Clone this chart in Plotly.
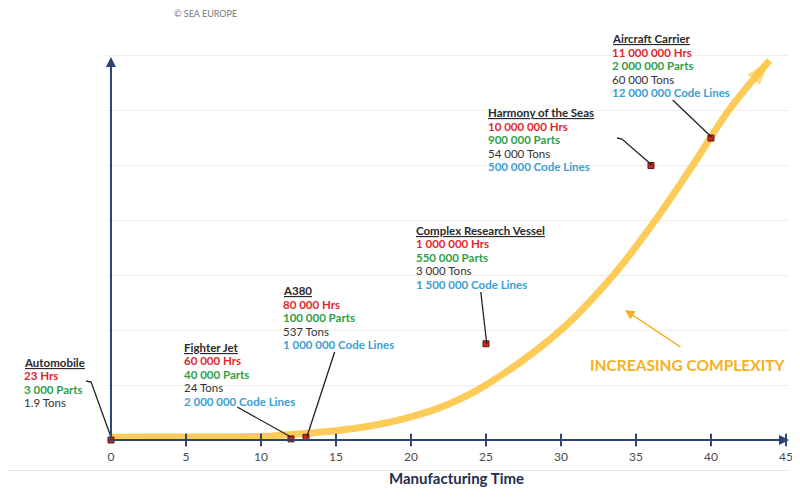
import plotly.graph_objects as go

# --- data ---
vehicles = ['Automobile', 'Fighter Jet', 'A380', 'Complex Research Vessel',
            'Harmony of the Seas', 'Aircraft Carrier']
build_hours = [23, 60000, 80000, 1000000, 10000000, 11000000]
part_counts = [3000, 40000, 100000, 550000, 900000, 2000000]
weight_tons = [1.9, 24, 537, 3000, 54000, 60000]
code_lines = [None, 2000000, 1000000, 1500000, 500000, 12000000]

# where each vehicle sits on the chart
point_x = [0, 12, 13, 25, 36, 40]
point_y = [0.0, 0.02, 0.05, 1.75, 4.99, 5.49]

# the "increasing complexity" curve
curve_x = [0, 5, 10, 12, 15, 17, 20, 22.5, 25, 30, 33.5, 36.3, 38.8, 41.2, 43.9]
curve_y = [0.05, 0.055, 0.065, 0.1, 0.17, 0.24, 0.42, 0.65, 1.0, 2.0, 3.0, 4.0, 5.0, 6.0, 6.9]

x_ticks = [0, 5, 10, 15, 20, 25, 30, 35, 40, 45]

# --- page geometry ---
# the page body has an 8px margin, so the figure starts at (8, 8) on screen;
# positions below are written in screen pixels and shifted by OFF.
OFF = 8
W, H = 792, 491
ML, MR, MT, MB = 97, 7, 41, 55
PX_X = (W - ML - MR) / 45.6      # pixels per x unit
PX_Y = 55.0                      # pixels per y unit
X0_PX, Y0_PX = 111, 440          # screen position of the origin
X_RANGE = [-(X0_PX - OFF - ML) / PX_X, (W - MR - (X0_PX - OFF)) / PX_X]
Y_RANGE = [-(H - MB - (Y0_PX - OFF)) / PX_Y, ((Y0_PX - OFF) - MT) / PX_Y]

NAVY = '#2B4570'
RED = '#E3262B'
GREEN = '#2E9F48'
BLUE = '#3AA0D5'
DARK = '#333333'
YELLOW = 'rgba(253,196,64,0.88)'
ORANGE = '#F5B021'
LINE_GAP = 13.6


def fx(p):
    return (p - OFF - ML) / (W - ML - MR)


def fy(p):
    return (H - MB - (p - OFF)) / (H - MT - MB)


def fmt(v):
    if isinstance(v, float) and not v.is_integer():
        return str(v)
    return f"{int(v):,}".replace(',', ' ')


def block_rows(i):
    rows = [(f"<b><u>{vehicles[i]}</u></b>", '#2A2A2A'),
            (f"<b>{fmt(build_hours[i])} Hrs</b>", RED),
            (f"<b>{fmt(part_counts[i])} Parts</b>", GREEN),
            (f"{fmt(weight_tons[i])} Tons", DARK)]
    if code_lines[i] is not None:
        rows.append((f"<b>{fmt(code_lines[i])} Code Lines</b>", BLUE))
    return rows


def note(x, y, text, size, color):
    fig.add_annotation(x=fx(x), y=fy(y), xref='paper', yref='paper', text=text,
                       showarrow=False, xanchor='center', yanchor='middle',
                       font=dict(family='Lato', size=size, color=color))


fig = go.Figure()

# curve with arrow head at its end
n = len(curve_x)
fig.add_trace(go.Scatter(
    x=curve_x, y=curve_y, mode='lines+markers',
    line=dict(color=YELLOW, width=7, shape='spline', smoothing=1.0),
    marker=dict(symbol=['circle'] * (n - 1) + ['arrow'],
                size=[0] * (n - 1) + [26], angleref='previous',
                color=YELLOW, line=dict(width=0)),
    hoverinfo='skip', showlegend=False, cliponaxis=False))

# cross ticks on the time axis
fig.add_trace(go.Scatter(
    x=x_ticks[1:], y=[0] * (len(x_ticks) - 1), mode='markers',
    marker=dict(symbol='line-ns', size=9, line=dict(color=NAVY, width=2)),
    hoverinfo='skip', showlegend=False, cliponaxis=False))

# vehicle points
fig.add_trace(go.Scatter(
    x=point_x, y=point_y, mode='markers', text=vehicles,
    marker=dict(symbol='square', size=6, color='#C8281E',
                line=dict(color='#5A1A10', width=1)),
    hovertemplate='%{text}<extra></extra>', showlegend=False, cliponaxis=False))

# label blocks, one annotation per line (screen px of first line centre)
label_px = [(22, 362), (182, 347), (282, 290.5), (415.5, 230), (488, 112.5), (613, 38.5)]
for i, (lx, ly) in enumerate(label_px):
    for k, (txt, col) in enumerate(block_rows(i)):
        fig.add_annotation(x=fx(lx), y=fy(ly + k * LINE_GAP), xref='paper', yref='paper',
                           text=txt, showarrow=False, align='left',
                           xanchor='left', yanchor='middle',
                           font=dict(family='Lato', size=11.5, color=col))

# leader lines from the labels to the points
leaders = [
    [(86, 381), (91, 382), (111, 437)],
    [(238, 407), (292, 437)],
    [(336, 352), (308, 437)],
    [(483, 292), (489, 344)],
    [(620, 138), (625, 139), (655, 165)],
    [(676, 100), (715, 137)],
]
for pts in leaders:
    path = 'M ' + ' L '.join(f"{fx(a):.5f},{fy(b):.5f}" for a, b in pts)
    fig.add_shape(type='path', path=path, xref='paper', yref='paper',
                  line=dict(color='#222222', width=1.3))

# separator under the axis title
fig.add_shape(type='line', xref='paper', yref='paper',
              x0=fx(OFF), x1=fx(792), y0=fy(470.5), y1=fy(470.5),
              line=dict(color='#E6E6E6', width=1))

# axis lines with arrow heads
fig.add_annotation(x=fx(793), y=fy(440), xref='paper', yref='paper', text='',
                   showarrow=True, ax=111 - 793, ay=0, arrowhead=2, arrowsize=1,
                   arrowwidth=2, arrowcolor=NAVY)
fig.add_annotation(x=fx(111), y=fy(57), xref='paper', yref='paper', text='',
                   showarrow=True, ax=0, ay=440 - 57, arrowhead=2, arrowsize=1,
                   arrowwidth=2, arrowcolor=NAVY)

# increasing complexity callout
note(691, 365, '<b>INCREASING COMPLEXITY</b>', 15.5, ORANGE)
fig.add_annotation(x=fx(628), y=fy(310), xref='paper', yref='paper', text='',
                   showarrow=True, ax=685 - 628, ay=348 - 310, arrowhead=2,
                   arrowsize=1.3, arrowwidth=1.5, arrowcolor=ORANGE)

# axis title and credit
note(459, 478, '<b>Manufacturing Time</b>', 15, '#1F2D50')
note(206, 14, '© SEA EUROPE', 9, '#777777')

fig.update_xaxes(range=X_RANGE, tickvals=x_ticks, showgrid=False, zeroline=False,
                 showline=False, ticks='', ticklabelstandoff=4,
                 tickfont=dict(family='Lato', size=12, color='#4A4A4A'))
fig.update_yaxes(range=Y_RANGE, dtick=1, tick0=0, showgrid=True, gridcolor='#F3EDE6',
                 gridwidth=1, zeroline=False, showline=False, showticklabels=False)

fig.update_layout(
    width=W, height=H,
    margin=dict(l=ML, r=MR, t=MT, b=MB),
    paper_bgcolor='white', plot_bgcolor='white',
    font=dict(family='Lato'),
    showlegend=False,
)

fig.write_html('out.html')
